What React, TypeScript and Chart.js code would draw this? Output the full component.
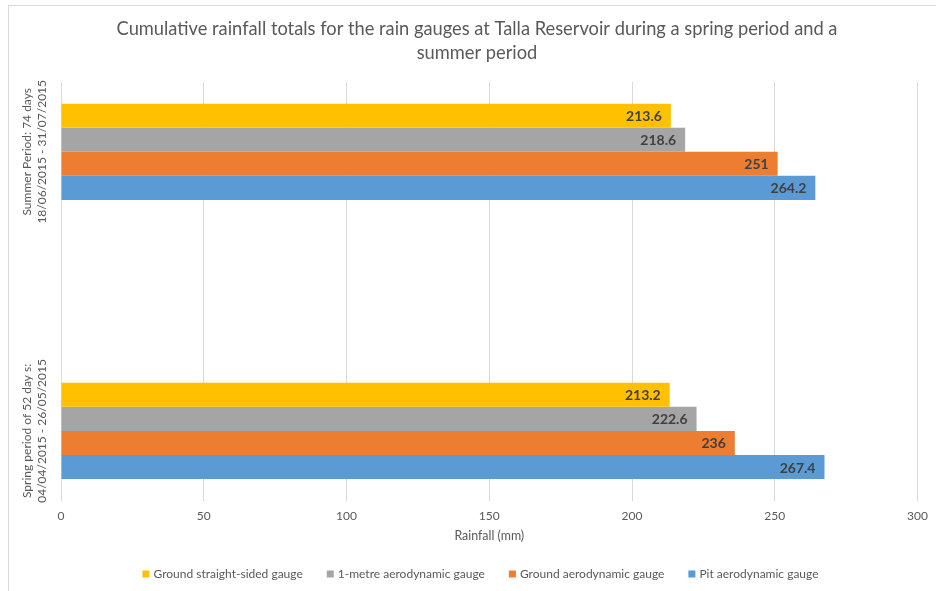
import React, { useEffect, useRef } from "react";
import { Chart, registerables } from "chart.js";

Chart.register(...registerables);

const TITLE_LINES = [
  "Cumulative rainfall totals for the rain gauges at Talla Reservoir during a spring period and a",
  "summer period",
];
const CATEGORIES: string[][] = [
  ["Summer Period: 74 days", "18/06/2015 - 31/07/2015"],
  [""],
  ["Spring period of 52 day s:", "04/04/2015 - 26/05/2015"],
];
const SERIES_NAMES = [
  "Ground straight-sided gauge",
  "1-metre aerodynamic gauge",
  "Ground aerodynamic gauge",
  "Pit aerodynamic gauge",
];
const GROUND_STRAIGHT = [213.6, null, 213.2];
const ONE_METRE = [218.6, null, 222.6];
const GROUND_AERO = [251, null, 236];
const PIT_AERO = [264.2, null, 267.4];
const SERIES_COLORS = ["#FFC000", "#A5A5A5", "#ED7D31", "#5B9BD5"];
const X_MIN = 0;
const X_MAX = 300;
const X_STEP = 50;
const X_TITLE = "Rainfall (mm)";

const FONT = "Lato, 'Open Sans', sans-serif";
const TEXT = "#595959";
const GRID = "#d9d9d9";

const titlePlugin = {
  id: "customTitle",
  afterDraw(chart: any) {
    const ctx = chart.ctx;
    ctx.save();
    ctx.font = `18.3px ${FONT}`;
    ctx.fillStyle = TEXT;
    ctx.textAlign = "center";
    ctx.textBaseline = "middle";
    TITLE_LINES.forEach((line, i) => {
      ctx.fillText(line, 477, 29 + i * 24);
    });
    ctx.restore();
  },
};

const legendPlugin = {
  id: "customLegend",
  afterDraw(chart: any) {
    const ctx = chart.ctx;
    ctx.save();
    ctx.font = `12px ${FONT}`;
    ctx.textBaseline = "middle";
    ctx.textAlign = "left";
    const box = 7;
    const gapBoxText = 4;
    const gapItems = 24;
    const widths = SERIES_NAMES.map((n) => box + gapBoxText + ctx.measureText(n).width);
    const total = widths.reduce((a, b) => a + b, 0) + gapItems * (SERIES_NAMES.length - 1);
    let x = 480.5 - total / 2;
    const y = 574;
    SERIES_NAMES.forEach((name, i) => {
      ctx.fillStyle = SERIES_COLORS[i];
      ctx.fillRect(x, y - box / 2, box, box);
      ctx.fillStyle = TEXT;
      ctx.fillText(name, x + box + gapBoxText, y + 0.5);
      x += widths[i] + gapItems;
    });
    ctx.restore();
  },
};

const valueLabels = {
  id: "valueLabels",
  afterDatasetsDraw(chart: any) {
    const ctx = chart.ctx;
    ctx.save();
    ctx.font = `bold 14px ${FONT}`;
    ctx.fillStyle = "#404040";
    ctx.textAlign = "right";
    ctx.textBaseline = "middle";
    chart.data.datasets.forEach((ds: any, di: number) => {
      const meta = chart.getDatasetMeta(di);
      meta.data.forEach((el: any, i: number) => {
        const v = ds.data[i];
        if (v === null || v === undefined) return;
        ctx.fillText(String(v), el.x - 9, el.y + 1);
      });
    });
    ctx.restore();
  },
};

const yLabels = {
  id: "yLabels",
  afterDraw(chart: any) {
    const ctx = chart.ctx;
    const yScale = chart.scales.y;
    ctx.save();
    ctx.font = `12px ${FONT}`;
    ctx.fillStyle = TEXT;
    ctx.textAlign = "center";
    ctx.textBaseline = "middle";
    const lineH = 15;
    const cx = 35;
    CATEGORIES.forEach((lines, i) => {
      const y = yScale.getPixelForTick(i);
      const n = lines.length;
      lines.forEach((line, li) => {
        if (!line) return;
        const x = cx + (li - (n - 1) / 2) * lineH;
        ctx.save();
        ctx.translate(x, y);
        ctx.rotate(-Math.PI / 2);
        ctx.fillText(line, 0, 0);
        ctx.restore();
      });
    });
    ctx.restore();
  },
};

export default function App() {
  const ref = useRef<HTMLCanvasElement | null>(null);

  useEffect(() => {
    document.body.style.margin = "0";
    if (!ref.current) return;
    const seriesData = [GROUND_STRAIGHT, ONE_METRE, GROUND_AERO, PIT_AERO];
    const chart = new Chart(ref.current, {
      type: "bar",
      data: {
        labels: CATEGORIES.map((l) => l.join(" ")),
        datasets: SERIES_NAMES.map((name, i) => ({
          label: name,
          data: seriesData[i],
          backgroundColor: SERIES_COLORS[i],
          borderWidth: 0,
          categoryPercentage: 0.69,
          barPercentage: 1.0,
        })),
      },
      options: {
        indexAxis: "y",
        responsive: false,
        animation: false,
        layout: { padding: { left: 0, right: 17, top: 82, bottom: 44 } },
        plugins: {
          title: { display: false },
          legend: { display: false },
          tooltip: { enabled: false },
        },
        scales: {
          x: {
            min: X_MIN,
            max: X_MAX,
            ticks: {
              stepSize: X_STEP,
              color: TEXT,
              font: { family: FONT, size: 12 },
              padding: 8,
            },
            grid: { color: GRID, drawTicks: false },
            border: { display: false },
            title: {
              display: true,
              text: X_TITLE,
              color: TEXT,
              font: { family: FONT, size: 12.4 },
              padding: { top: -3, bottom: 4 },
            },
          },
          y: {
            ticks: { display: false },
            grid: { display: false },
            border: { display: true, color: GRID },
            afterFit: (scale: any) => {
              scale.width = 61;
            },
          },
        },
      },
      plugins: [valueLabels, yLabels, titlePlugin, legendPlugin],
    });
    return () => chart.destroy();
  }, []);

  return (
    <div style={{ position: "relative", width: 936, height: 591, background: "#fff" }}>
      <div
        style={{
          position: "absolute",
          left: 8,
          top: 5,
          right: 0,
          bottom: 0,
          borderLeft: "1px solid #d9d9d9",
          borderTop: "1px solid #d9d9d9",
        }}
      />
      <canvas ref={ref} width={936} height={591} style={{ position: "absolute", left: 0, top: 0 }} />
    </div>
  );
}
